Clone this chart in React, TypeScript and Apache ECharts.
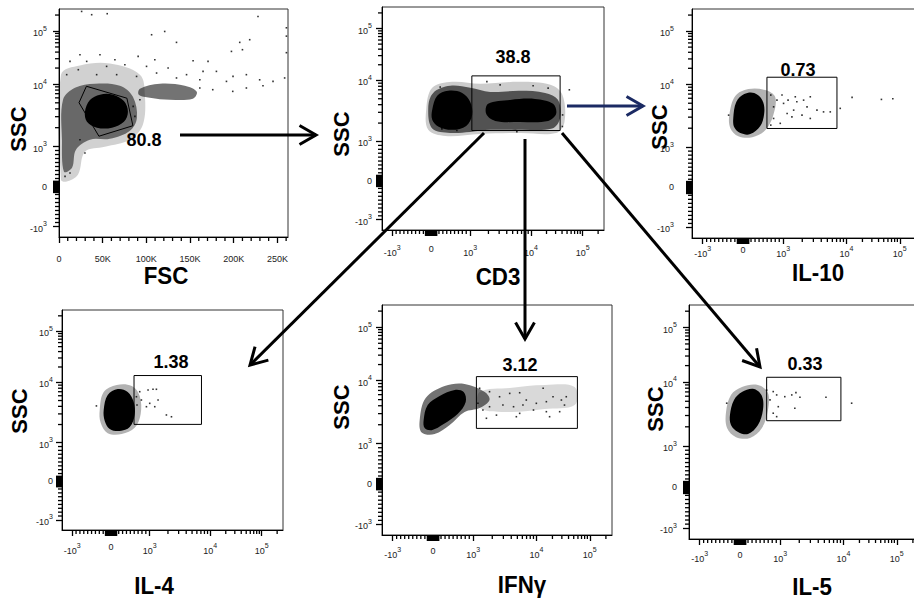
import React, { useEffect, useRef } from 'react';
import * as echarts from 'echarts';

const FONT = '"Liberation Sans", Arial, Helvetica, sans-serif';

// ---------- axis ticks / labels (raw cytometry units) ----------
const biexLabelValues = [-1000, 0, 1000, 10000, 100000];
const biexLabelTexts = ['{b|-10}{s|3}', '{b|0}', '{b|10}{s|3}', '{b|10}{s|4}', '{b|10}{s|5}'];
const biexMajorTicks = [-1000, -140, -130, -120, -110, -100, -90, -80, -70, -60, -50, -40, -30, -20, -10, 0, 10, 20, 30, 40, 50, 60, 70, 80, 90, 100, 110, 120, 130, 140, 1000, 10000, 100000];
const biexMinorTicks = [-900, -800, -700, -600, -500, -400, -300, -200, 200, 300, 400, 500, 600, 700, 800, 900,
  2000, 3000, 4000, 5000, 6000, 7000, 8000, 9000, 20000, 30000, 40000, 50000, 60000, 70000, 80000, 90000, 200000];
const fscLabelValues = [0, 50000, 100000, 150000, 200000, 250000];
const fscMinorTicks = [10000, 20000, 30000, 40000, 60000, 70000, 80000, 90000, 110000, 120000, 130000, 140000,
  160000, 170000, 180000, 190000, 210000, 220000, 230000, 240000, 260000];

const xTitles = ['FSC', 'CD3', 'IL-10', 'IL-4', 'IFNγ', 'IL-5'];
const gateValues = ['80.8', '38.8', '0.73', '1.38', '3.12', '0.33'];

// ---------- panel 1 : FSC vs SSC ----------
const p1Fringe = [[2300, 15000], [24000, 22400], [58300, 24300], [92600, 15000], [98300, 6760], [96000, 2230], [81200, 1285], [52600, 995], [29700, 870], [21700, 295], [8000, 120], [2300, 170]];
const p1Dense = [[4600, 5600], [18300, 8720], [41100, 10130], [69700, 9390], [84600, 6260], [89200, 2890], [81200, 1790], [58300, 1330], [35400, 1285], [19400, 920], [14900, 470], [5700, 370], [3400, 1285]];
const p1Cluster = [[92600, 8410], [115400, 10130], [144000, 9390], [157700, 7540], [153200, 5830], [126900, 5600], [104000, 6040], [91400, 6760]];
const p1Core = [[29700, 3600], [35400, 5540], [46900, 6760], [61700, 6760], [74300, 5340], [78900, 3600], [74300, 2490], [60600, 2000], [43400, 2000], [32000, 2490]];
const p1Gate = [[31400, 9200], [77700, 5930], [84600, 2150], [45700, 1460], [22900, 5020]];
const p1Dots = [[25900, 234000], [37400, 203000], [55200, 212000], [227800, 188000], [106000, 85000], [121000, 98000], [134500, 61000], [206900, 61000], [218300, 68500], [260300, 115000], [260300, 80000], [260300, 39000], [24000, 35700], [46900, 35700], [64000, 28700], [90600, 33200], [109700, 28700], [153500, 27500], [197400, 41200], [210000, 44400], [31700, 26700], [12600, 26700], [75400, 23100], [170600, 26700], [22100, 18600], [54500, 21500], [100200, 21500], [124900, 20000], [164900, 17300], [180200, 17300], [199200, 13900], [214500, 15000], [229700, 12000], [245000, 11200], [258300, 13000], [146000, 15000], [191700, 11200], [161200, 12000], [8800, 15000], [43100, 15000], [66000, 15000], [88800, 13900], [111700, 16100], [134500, 13000], [161200, 8630], [176000, 8110], [198900, 7620], [214500, 8630], [233500, 9390], [29700, 837], [24000, 1285], [84900, 4380], [92600, 5600], [86900, 3030], [12600, 337], [6900, 252]];

// ---------- panel 2 : CD3 vs SSC ----------
const p2Fringe = [[-128, 3290], [27, 7540], [540, 9450], [1460, 8760], [6620, 9450], [23800, 8440], [40600, 5790], [44600, 2090], [30700, 1380], [6620, 1380], [1460, 1330], [362, 1230], [-75, 1550]];
const p2Mid = [[-75, 3550], [52, 6240], [487, 8140], [1004, 7540], [2130, 6470], [6620, 6750], [18800, 6240], [33500, 4790], [36700, 2430], [25700, 1630], [6620, 1550], [2130, 1550], [1004, 1435], [487, 1380], [27, 1630]];
const p2CoreLeft = [[27, 3290], [155, 5580], [437, 6750], [797, 6240], [1004, 4440], [1080, 2720], [900, 1800], [540, 1550], [180, 1760], [27, 2260]];
const p2CoreRight = [[1977, 4140], [4550, 4790], [12000, 4970], [26800, 4140], [30700, 2830], [21500, 2170], [6620, 2090], [2580, 2170], [1837, 2830]];
const p2Gate = [[1068, 12200], [36700, 12200], [36700, 1510], [1068, 1510]];
const p2Dots = [[55400, 7000], [41000, 2720], [40600, 1760], [232, 7770], [1885, 9540], [3110, 8440], [11000, 8140], [21500, 7450], [275, 1610], [660, 1510], [5860, 1450]];

// ---------- panel 3 : IL-10 vs SSC ----------
const p3Fringe = [[-338, 3230], [-190, 6500], [132, 8410], [553, 8110], [800, 6260], [752, 3230], [553, 1860], [232, 1440], [-115, 1490], [-312, 2000]];
const p3Core = [[-240, 2890], [-165, 5210], [32, 7000], [280, 7270], [480, 5600], [530, 3610], [430, 2160], [182, 1610], [-65, 1670], [-215, 2070]];
const p3Gate = [[595, 13600], [7100, 13600], [7100, 1980], [595, 1980]];
const p3Dots = [[690, 6750], [843, 5600], [760, 4380], [1010, 4970], [1190, 5600], [1640, 5270], [2100, 5600], [2680, 6330], [2380, 4380], [3420, 3880], [4350, 3640], [5560, 3640], [1150, 3430], [1460, 3880], [1980, 3230], [2680, 2860], [760, 2860], [690, 2240], [925, 2390], [1370, 3030], [968, 6750], [1550, 6330], [12800, 6190], [45300, 5750], [74000, 5880], [-355, 3230], [8000, 4140]];

// ---------- panel 4 : IL-4 vs SSC ----------
const p4Fringe = [[-290, 3490], [-187, 6910], [148, 9050], [535, 8710], [742, 5960], [767, 2990], [612, 1760], [277, 1390], [-83, 1440], [-265, 2130]];
const p4Core = [[-187, 3490], [-83, 6170], [175, 7760], [432, 6910], [587, 4720], [612, 2880], [485, 1820], [225, 1560], [-32, 1690], [-160, 2290]];
const p4Gate = [[595, 13600], [7150, 13600], [7150, 2010], [595, 2010]];
const p4Dots = [[742, 7000], [957, 7490], [1133, 7680], [1289, 7680], [785, 5100], [1000, 4490], [1373, 5100], [915, 3950], [1211, 3950], [1885, 2880], [2285, 2690], [657, 5780], [672, 4210], [-375, 4070]];

// ---------- panel 5 : IFNγ vs SSC ----------
const p5Trail = [[1260, 6590], [3780, 7650], [14300, 8540], [52200, 7940], [52200, 4100], [14300, 3550], [3780, 3180], [1260, 3680]];
const p5Mid = [[-328, 2380], [-180, 5300], [290, 8210], [785, 8880], [1520, 6590], [1810, 4930], [1260, 3680], [785, 3180], [415, 1980], [42, 1420], [-280, 1510]];
const p5Core = [[-230, 2380], [-130, 4100], [167, 5710], [540, 7110], [762, 6590], [812, 4580], [612, 2950], [267, 2050], [-30, 1640], [-205, 1770]];
const p5Gate = [[1120, 11900], [58600, 11900], [58600, 1750], [1120, 1750]];
const p5Dots = [[1260, 7570], [1810, 6680], [2610, 5560], [3780, 6280], [5440, 6430], [6930, 4930], [10000, 4370], [15400, 4640], [20500, 5560], [29400, 4930], [36300, 5560], [33600, 4100], [15400, 3220], [9010, 3420], [5440, 3030], [4350, 3860], [2330, 2840], [1615, 2530], [1420, 3420], [1185, 4370], [13400, 7570], [1810, 3860], [2950, 4100], [6130, 4100], [4820, 2680], [17700, 2680], [27300, 3220]];

// ---------- panel 6 : IL-5 vs SSC ----------
const p6Fringe = [[-345, 3410], [-222, 6280], [50, 8360], [447, 8960], [695, 6750], [695, 3660], [545, 1920], [250, 1340], [-97, 1380], [-320, 1920]];
const p6Core = [[-247, 3070], [-147, 5250], [50, 7000], [347, 7800], [545, 6060], [570, 3660], [447, 2140], [200, 1545], [-47, 1660], [-222, 2140]];
const p6Gate = [[662, 12200], [9150, 12200], [9150, 2490], [662, 2490]];
const p6Dots = [[662, 7460], [825, 7080], [910, 6280], [1178, 5900], [1520, 6280], [1770, 6830], [2050, 5780], [5300, 5780], [14300, 4670], [950, 4120], [1700, 3890], [745, 5250], [825, 3260], [910, 2880], [-328, 4670]];

// biexponential-like display transform (axis units 0..228)
const T = (v: number) =>
  v <= 1000 ? 50.5 + v * 0.04 : v <= 10000 ? 90.5 + 62.5 * Math.log10(v / 1000) : 153 + 53 * Math.log10(v / 10000);

const panels = [
  { rect: [59, 9, 229, 228], linearX: true, xm: 17, ym: 12, layers: [[p1Fringe, 0.18], [p1Dense, 0.5], [p1Cluster, 0.55], [p1Core, 1]], dots: p1Dots, gate: p1Gate,
    gateLabel: [144, 140], ssc: [18, 129], title: [166, 276] },
  { rect: [382, 7, 222, 223], linearX: false, xm: 14, ym: 10, layers: [[p2Fringe, 0.2], [p2Mid, 0.6], [p2CoreLeft, 1], [p2CoreRight, 1]], dots: p2Dots, gate: p2Gate,
    gateLabel: [513, 57], ssc: [341, 134], title: [498, 277] },
  { rect: [692, 9, 230, 229], linearX: false, xm: 7, ym: 18, layers: [[p3Fringe, 0.3], [p3Core, 1]], dots: p3Dots, gate: p3Gate,
    gateLabel: [798, 70], ssc: [659, 127], title: [818, 273] },
  { rect: [62, 310, 221, 220], linearX: false, xm: 12, ym: 9, layers: [[p4Fringe, 0.3], [p4Core, 1]], dots: p4Dots, gate: p4Gate,
    gateLabel: [171, 362], ssc: [19, 411], title: [154, 586] },
  { rect: [382, 305, 230, 230], linearX: false, xm: 11, ym: 10, layers: [[p5Trail, 0.15], [p5Mid, 0.55], [p5Core, 1]], dots: p5Dots, gate: p5Gate,
    gateLabel: [520, 365], ssc: [341, 407], title: [522, 585] },
  { rect: [689, 305, 230, 234], linearX: false, xm: 11, ym: 12, layers: [[p6Fringe, 0.3], [p6Core, 1]], dots: p6Dots, gate: p6Gate,
    gateLabel: [805, 364], ssc: [655, 409], title: [812, 587] },
];

const RICH = {
  b: { fontSize: 9, color: '#222', fontFamily: FONT, verticalAlign: 'bottom' },
  s: { fontSize: 7, color: '#222', fontFamily: FONT, padding: [0, 0, 6, 0], verticalAlign: 'bottom' },
};

function biexFormatter(val: number) {
  const i = biexLabelValues.findIndex((v) => Math.abs(T(v) - val) < 0.01);
  return i >= 0 ? biexLabelTexts[i] : '';
}

function polygonSeries(gi: number, pts: number[][], fill: string, stroke: string, lineWidth: number, smooth: number, z: number) {
  return {
    type: 'custom',
    coordinateSystem: 'cartesian2d',
    xAxisIndex: gi,
    yAxisIndex: gi,
    data: pts,
    z,
    silent: true,
    renderItem: (params: any, api: any) => {
      if (params.dataIndexInside !== 0) return null;
      const points: number[][] = [];
      for (let k = 0; k < params.dataInsideLength; k++) points.push(api.coord([api.value(0, k), api.value(1, k)]));
      return { type: 'polygon', shape: { points, smooth }, style: { fill, stroke, lineWidth } };
    },
  };
}

// short minor tick marks drawn outward from the axis line, placed through the axes
function minorTickSeries(gi: number, data: number[][], horizontal: boolean) {
  return {
    type: 'custom',
    coordinateSystem: 'cartesian2d',
    xAxisIndex: gi,
    yAxisIndex: gi,
    data,
    z: 12,
    silent: true,
    clip: false,
    renderItem: (params: any, api: any) => {
      const p = api.coord([api.value(0), api.value(1)]);
      const shape = horizontal
        ? { x1: p[0], y1: p[1], x2: p[0], y2: p[1] + 4 }
        : { x1: p[0], y1: p[1], x2: p[0] - 4, y2: p[1] };
      return { type: 'line', shape, style: { stroke: '#000', lineWidth: 1.3 } };
    },
  };
}

function arrow(x1: number, y1: number, x2: number, y2: number, color: string, w: number) {
  const ang = Math.atan2(y2 - y1, x2 - x1);
  const L = 19, a = 0.52;
  const pA = [x2 - L * Math.cos(ang - a), y2 - L * Math.sin(ang - a)];
  const pB = [x2 - L * Math.cos(ang + a), y2 - L * Math.sin(ang + a)];
  return [
    { type: 'line', z: 80, shape: { x1, y1, x2, y2 }, style: { stroke: color, lineWidth: w } },
    { type: 'polyline', z: 80, shape: { points: [pA, [x2, y2], pB] }, style: { stroke: color, lineWidth: w, fill: 'none', lineJoin: 'miter' } },
  ];
}

function text(x: number, y: number, t: string, size: number, rotation = 0, scaleX = 1) {
  return {
    type: 'text', x, y, rotation, scaleX, z: 70,
    style: { text: t, font: `bold ${size}px ${FONT}`, fill: '#000', align: 'center', verticalAlign: 'middle', textAlign: 'center', textVerticalAlign: 'middle' },
  };
}

function buildOption() {
  const grid: any[] = [];
  const xAxis: any[] = [];
  const yAxis: any[] = [];
  const series: any[] = [];
  const graphic: any[] = [];

  panels.forEach((p, i) => {
    grid.push({ left: p.rect[0], top: p.rect[1], width: p.rect[2], height: p.rect[3], show: true, borderColor: '#333', borderWidth: 1, backgroundColor: 'transparent', containLabel: false, outerBoundsMode: 'none' });
    const fx = p.linearX ? (v: number) => v : T;
    const xMax = p.linearX ? 262144 : 228;
    const lineStyle = { color: '#000', width: 1 };
    const tickStyle = { color: '#000', width: 1.3 };
    xAxis.push({
      type: 'value', gridIndex: i, min: 0, max: xMax, position: 'bottom',
      axisLine: { show: true, onZero: false, lineStyle },
      axisTick: { show: true, inside: false, length: 6, customValues: (p.linearX ? fscLabelValues : biexMajorTicks).map(fx), lineStyle: tickStyle },
      axisLabel: {
        show: true, margin: p.xm, customValues: (p.linearX ? fscLabelValues : biexLabelValues).map(fx),
        formatter: p.linearX ? (v: number) => (v === 0 ? '{b|0}' : `{b|${Math.round(v / 1000)}K}`) : biexFormatter,
        rich: RICH, color: '#222', fontSize: 9, fontFamily: FONT,
      },
      splitLine: { show: false },
    });
    yAxis.push({
      type: 'value', gridIndex: i, min: 0, max: 228, position: 'left',
      axisLine: { show: true, onZero: false, lineStyle },
      axisTick: { show: true, inside: false, length: 6, customValues: biexMajorTicks.map(T), lineStyle: tickStyle },
      axisLabel: { show: true, margin: p.ym, customValues: biexLabelValues.map(T), formatter: biexFormatter, rich: RICH, color: '#222', fontSize: 9, fontFamily: FONT },
      splitLine: { show: false },
    });

    const conv = (pts: number[][]) => pts.map(([x, y]) => [fx(x), T(y)]);
    (p.layers as any[]).forEach(([pts, alpha], li) => {
      series.push(polygonSeries(i, conv(pts), `rgba(0,0,0,${alpha})`, 'none', 0, 0.35, 2 + li));
    });
    series.push({
      type: 'scatter', xAxisIndex: i, yAxisIndex: i, data: conv(p.dots), symbol: 'rect', symbolSize: 1.6,
      itemStyle: { color: '#000' }, silent: true, z: 8,
    });
    series.push(polygonSeries(i, conv(p.gate), 'none', '#000', 1, 0, 10));
    series.push(minorTickSeries(i, (p.linearX ? fscMinorTicks : biexMinorTicks).map((v) => [fx(v), 0]), true));
    series.push(minorTickSeries(i, biexMinorTicks.map((v) => [0, T(v)]), false));

    graphic.push(text(p.gateLabel[0], p.gateLabel[1], gateValues[i], 18));
    graphic.push(text(p.ssc[0], p.ssc[1], 'SSC', 22, Math.PI / 2));
    graphic.push(text(p.title[0], p.title[1], xTitles[i], 24, 0, 0.93));
  });

  graphic.push(...arrow(180, 135, 316, 135, '#000', 3));
  graphic.push(...arrow(567, 106, 643, 106, '#1b2a63', 3));
  graphic.push(...arrow(484, 133, 250, 365, '#000', 3));
  graphic.push(...arrow(525, 139, 525, 339, '#000', 3));
  graphic.push(...arrow(562, 133, 760, 367, '#000', 3));

  return { animation: false, backgroundColor: '#fff', grid, xAxis, yAxis, series, graphic };
}

export default function App() {
  const ref = useRef<HTMLDivElement>(null);
  useEffect(() => {
    if (!ref.current) return;
    const chart = echarts.init(ref.current, null, { renderer: 'svg' });
    chart.setOption(buildOption() as any);
    return () => chart.dispose();
  }, []);
  return <div ref={ref} style={{ position: 'absolute', left: 0, top: 0, width: 914, height: 602 }} />;
}
